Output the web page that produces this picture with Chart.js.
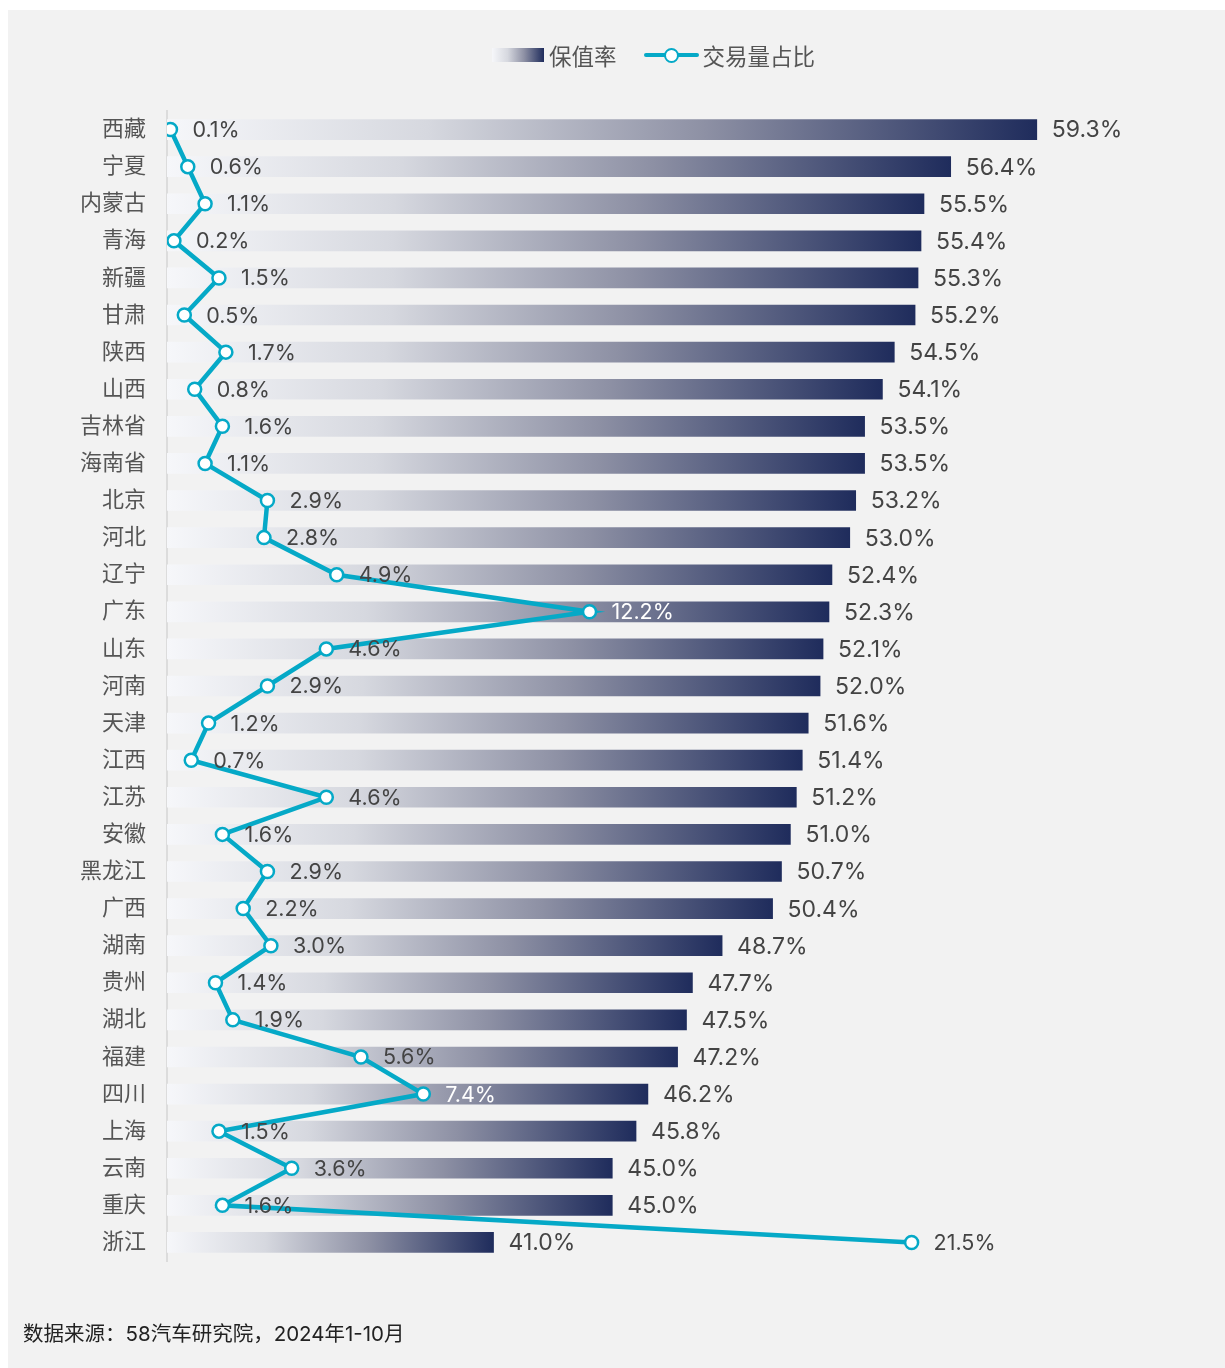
<!DOCTYPE html>
<html>
<head>
<meta charset="utf-8">
<script src="https://cdn.jsdelivr.net/npm/chart.js@4"></script>
<style>
  html, body { margin:0; padding:0; background:#ffffff; width:1225px; height:1368px; overflow:hidden; }
  #card { position:absolute; left:8px; top:10px; right:0; bottom:0; background:#f2f2f2; }
  #c { position:absolute; left:0; top:0; }
  .legend { position:absolute; top:39px; left:492px; display:flex; align-items:center; font-family: Inter, "Noto Sans CJK SC", sans-serif; font-size:22.5px; color:#555; }
  .lg-box { width:52px; height:14px; background:linear-gradient(to right, #f6f7fa 0%, #d6d8df 30%, #8d90a4 62%, #1f2c5c 100%); margin-right:5px; }
  .lg-line { position:relative; width:55px; height:22px; margin-left:27px; margin-right:4px; }
  .lg-line .ln { position:absolute; left:0; right:0; top:9px; height:4px; background:#05a9c7; border-radius:2px; }
  .lg-line .pt { position:absolute; left:20px; top:3.5px; width:11px; height:11px; border:2.5px solid #05a9c7; background:#fff; border-radius:50%; }
  .footer { position:absolute; left:23px; top:1317px; font-family: Inter, "Noto Sans CJK SC", sans-serif; font-size:20.5px; color:#222; }
</style>
</head>
<body>
<div id="card"></div>
<canvas id="c" width="1225" height="1368"></canvas>
<div class="legend">
  <div class="lg-box"></div><span>保值率</span>
  <div class="lg-line"><div class="ln"></div><div class="pt"></div></div><span>交易量占比</span>
</div>
<div class="footer">数据来源：58汽车研究院，2024年1-10月</div>
<script>
const provinces = ['西藏','宁夏','内蒙古','青海','新疆','甘肃','陕西','山西','吉林省','海南省','北京','河北','辽宁','广东','山东','河南','天津','江西','江苏','安徽','黑龙江','广西','湖南','贵州','湖北','福建','四川','上海','云南','重庆','浙江'];
const retentionRate = [59.3,56.4,55.5,55.4,55.3,55.2,54.5,54.1,53.5,53.5,53.2,53.0,52.4,52.3,52.1,52.0,51.6,51.4,51.2,51.0,50.7,50.4,48.7,47.7,47.5,47.2,46.2,45.8,45.0,45.0,41.0];
const tradeShare = [0.1,0.6,1.1,0.2,1.5,0.5,1.7,0.8,1.6,1.1,2.9,2.8,4.9,12.2,4.6,2.9,1.2,0.7,4.6,1.6,2.9,2.2,3.0,1.4,1.9,5.6,7.4,1.5,3.6,1.6,21.5];
const seriesNames = ['保值率','交易量占比'];

const FONT = 'Inter, "Noto Sans CJK SC", sans-serif';
const LINE_COLOR = '#05a9c7';

function barGradient(ctx) {
  const chart = ctx.chart;
  const area = chart.chartArea;
  if (!area || ctx.type !== 'data') return '#8d90a4';
  const xs = chart.scales.x;
  const end = xs.getPixelForValue(retentionRate[ctx.dataIndex]);
  const g = chart.ctx.createLinearGradient(area.left, 0, end, 0);
  g.addColorStop(0, '#f6f7fa');
  g.addColorStop(0.3, '#d6d8df');
  g.addColorStop(0.62, '#8d90a4');
  g.addColorStop(1, '#1f2c5c');
  return g;
}

const labelPlugin = {
  id: 'valueLabels',
  afterDatasetsDraw(chart) {
    const ctx = chart.ctx;
    const xs = chart.scales.x, ys = chart.scales.y, x2 = chart.scales.x2;
    const left = chart.chartArea.left;
    ctx.save();
    ctx.textBaseline = 'middle';
    ctx.textAlign = 'left';
    // bar labels
    ctx.font = '23px ' + FONT;
    ctx.fillStyle = '#444';
    retentionRate.forEach((v, i) => {
      const px = xs.getPixelForValue(v);
      const py = ys.getPixelForValue(i);
      ctx.fillText(v.toFixed(1) + '%', px + 15, py + 1);
    });
    // line labels
    ctx.font = '21.5px ' + FONT;
    tradeShare.forEach((v, i) => {
      const px = x2.getPixelForValue(v) + 22;
      const py = ys.getPixelForValue(i);
      const end = xs.getPixelForValue(retentionRate[i]);
      const frac = (px - left) / (end - left);
      ctx.fillStyle = (px < end && frac > 0.5) ? '#ffffff' : '#444';
      ctx.fillText(v.toFixed(1) + '%', px, py + 1);
    });
    ctx.restore();
  }
};

new Chart(document.getElementById('c'), {
  type: 'bar',
  data: {
    labels: provinces,
    datasets: [
      {
        type: 'line',
        label: seriesNames[1],
        data: tradeShare,
        xAxisID: 'x2',
        yAxisID: 'y',
        indexAxis: 'y',
        borderColor: LINE_COLOR,
        borderWidth: 4.5,
        pointRadius: 6.5,
        pointBorderWidth: 2.5,
        pointBackgroundColor: '#ffffff',
        pointBorderColor: LINE_COLOR,
        tension: 0,
        order: 0
      },
      {
        type: 'bar',
        label: seriesNames[0],
        data: retentionRate,
        xAxisID: 'x',
        yAxisID: 'y',
        indexAxis: 'y',
        backgroundColor: barGradient,
        barThickness: 20,
        borderWidth: 0,
        order: 1
      }
    ]
  },
  options: {
    indexAxis: 'y',
    responsive: false,
    animation: false,
    layout: { padding: { left: 0, top: 111, right: 19, bottom: 107 } },
    plugins: { legend: { display: false }, tooltip: { enabled: false } },
    scales: {
      x: { type: 'linear', min: 30, max: 65, display: false },
      x2: { type: 'linear', min: 0, max: 30, display: false },
      y: {
        type: 'category',
        offset: true,
        grid: { display: false, drawTicks: false },
        border: { display: true, color: '#dcdcdc', width: 2 },
        ticks: { color: '#555', font: { size: 22, family: FONT }, padding: 21 },
        afterFit(scale) { scale.width = 167; }
      }
    }
  },
  plugins: [labelPlugin]
});
</script>
</body>
</html>
